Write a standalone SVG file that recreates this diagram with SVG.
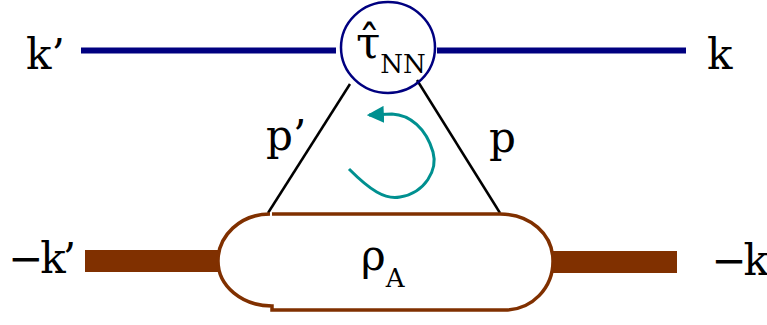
<svg xmlns="http://www.w3.org/2000/svg" width="767" height="325" viewBox="0 0 767 325">
<style>
text{font-family:'DejaVu Serif',serif;fill:#000}
.big{font-size:42px}
.blue{stroke:#000080;fill:none}
.brown{stroke:#803000;fill:none;stroke-width:3.5}
.bar{fill:#803000}
.leg{stroke:#000;stroke-width:2.5;fill:none}
</style>
<defs>
<marker id="ah" viewBox="0 0 16 16" refX="14" refY="8" markerWidth="17" markerHeight="17" markerUnits="userSpaceOnUse" orient="auto">
<path d="M0,0 L16,8 L0,16 z" fill="#009090"/>
</marker>
</defs>
<g id="connectors">
<line class="blue" x1="81" y1="50.5" x2="336" y2="50.5" stroke-width="6"/>
<line class="blue" x1="437" y1="50.5" x2="686" y2="50.5" stroke-width="6"/>
<line class="leg" x1="350" y1="84" x2="268" y2="213"/>
<line class="leg" x1="417" y1="80" x2="500" y2="213"/>
<rect class="bar" x="85" y="250" width="133" height="22"/>
<rect class="bar" x="553" y="251" width="124" height="22"/>
<path d="M349,169 C370,190 385,200 400,197 C425,193 438,170 433,152 C426,128 410,115 392,114 L369,115" fill="none" stroke="#009090" stroke-width="3" marker-end="url(#ah)"/>
</g>
<g id="vertex">
<ellipse class="blue" cx="388" cy="47.5" rx="47" ry="45.5" stroke-width="2.5" fill="#fff"/>
<text x="356" y="58" font-size="44">τ̂<tspan font-size="26" dy="15">NN</tspan></text>
</g>
<g id="density">
<path class="brown" d="M270,214 C240,214 218,236 218,261 C218,286 242,306 272,306 L272,310 L505,310 C532,310 553,288 553,261 C553,234 530,214 500,214 L272,214"/>
<text x="361" y="270" font-size="42">ρ<tspan font-size="26" dy="17">A</tspan></text>
</g>
<g id="labels">
<text class="big" x="26" y="69">k’</text>
<text class="big" x="707" y="69">k</text>
<text class="big" x="8" y="273" letter-spacing="-3">−k’</text>
<text class="big" x="766" y="275" text-anchor="end" letter-spacing="-3">−k</text>
<text class="big" x="266" y="150">p’</text>
<text class="big" x="489" y="152">p</text>
</g>
</svg>
